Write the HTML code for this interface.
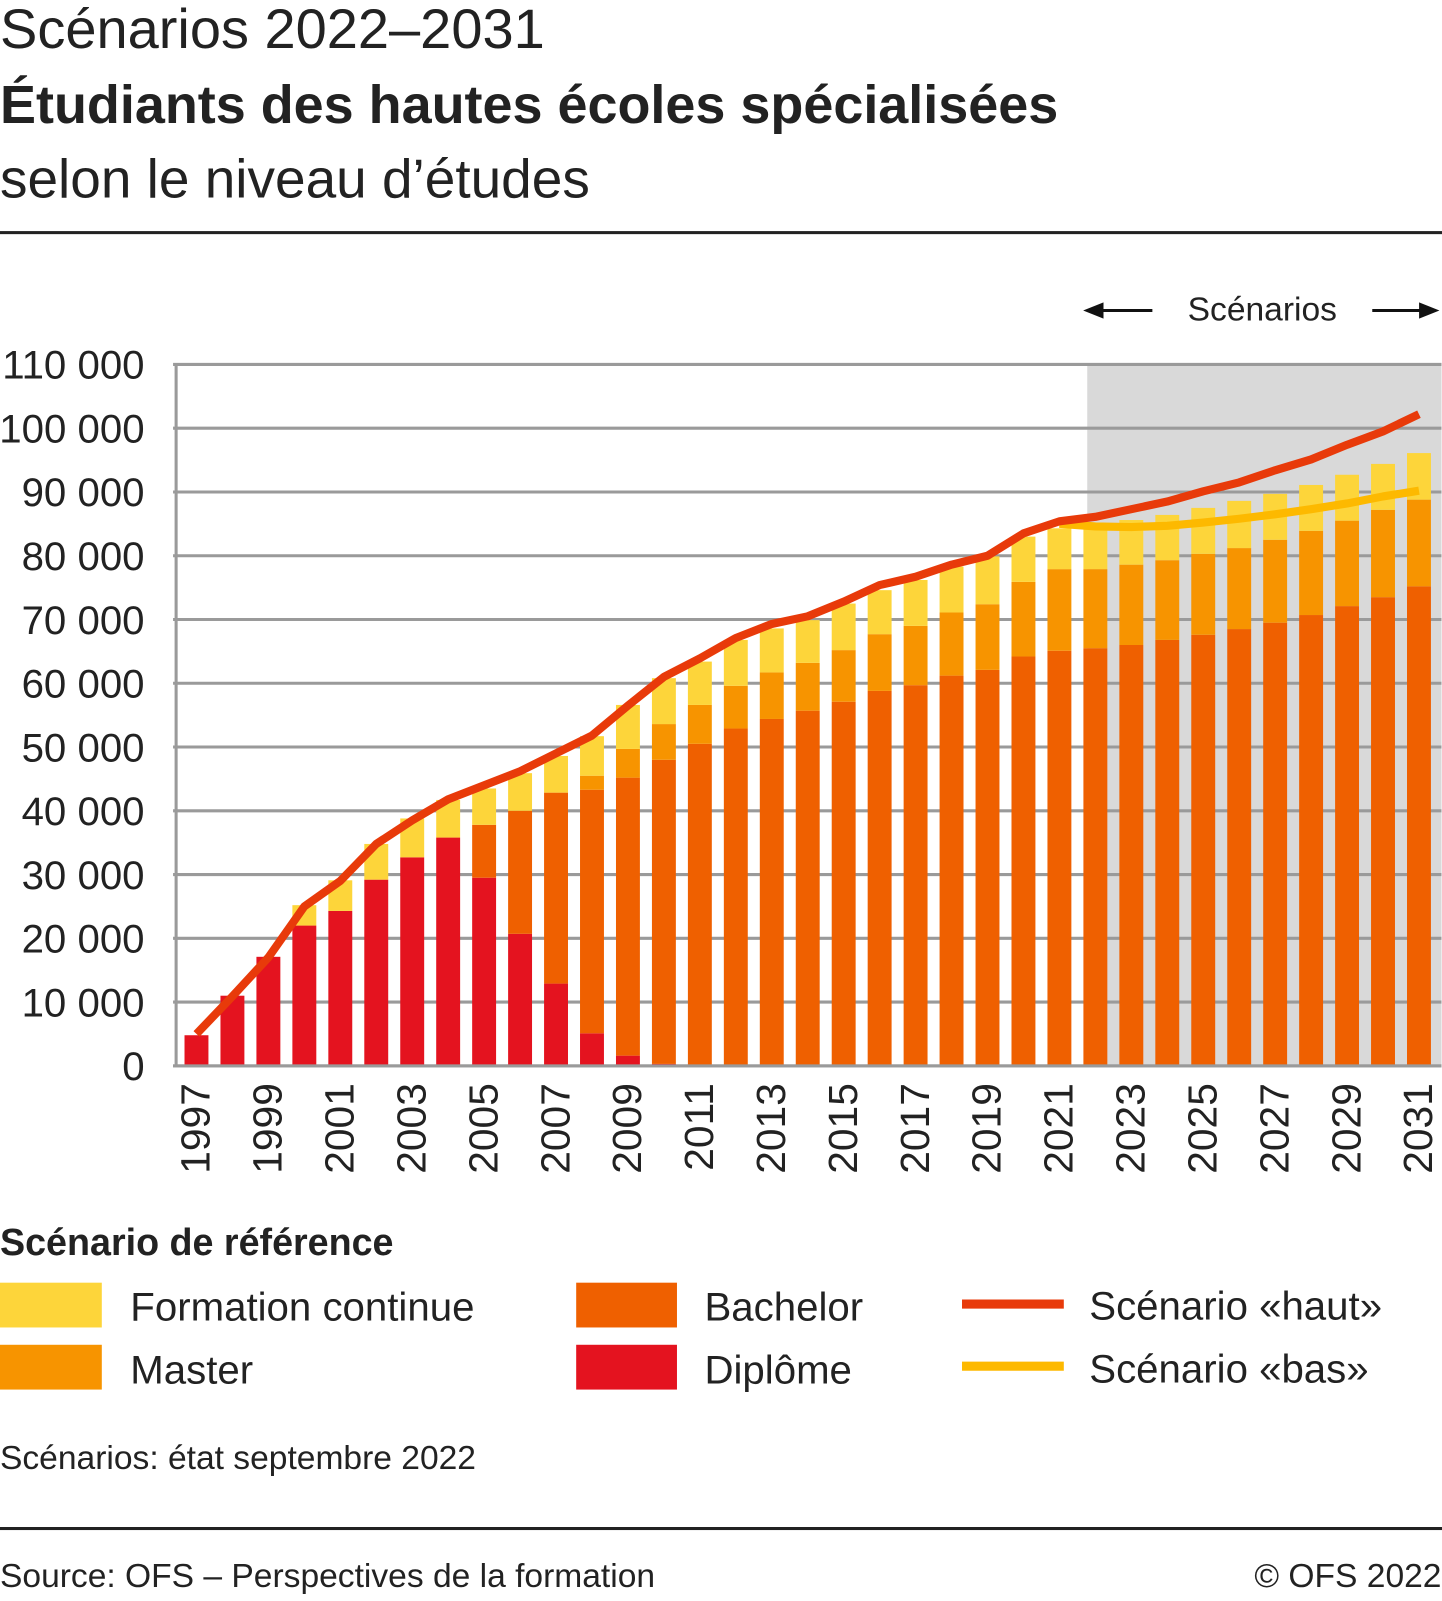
<!DOCTYPE html>
<html><head><meta charset="utf-8"><style>
body{margin:0;background:#fff;width:1442px;height:1596px;overflow:hidden;font-family:"Liberation Sans",sans-serif;color:#222}
svg text{font-family:"Liberation Sans",sans-serif;fill:#222}
</style></head><body>
<svg id="c" width="1442" height="1596" viewBox="0 0 1442 1596" xmlns="http://www.w3.org/2000/svg">
<g transform="scale(1.018)">
<text x="0" y="47" font-size="55">Scénarios 2022–2031</text>
<text x="0" y="121" font-size="53" font-weight="bold">Étudiants des hautes écoles spécialisées</text>
<text x="0" y="194" font-size="54">selon le niveau d’études</text>
<rect x="0" y="227" width="1418" height="3" fill="#222"/>
<g id="plot"></g>
<text x="1240" y="315" font-size="33" text-anchor="middle">Scénarios</text>
<g>
<line x1="1078" y1="305" x2="1132" y2="305" stroke="#111" stroke-width="3"/><polygon points="1064,305 1084,297 1084,313" fill="#111"/>
<line x1="1348" y1="305" x2="1400" y2="305" stroke="#111" stroke-width="3"/><polygon points="1414,305 1394,297 1394,313" fill="#111"/>
</g>
<text x="0" y="1233" font-size="37" font-weight="bold">Scénario de référence</text>
<g>
<rect x="0" y="1260" width="100" height="44" fill="#fdd53a"/>
<text x="128" y="1297" font-size="39.5">Formation continue</text>
<rect x="0" y="1321" width="100" height="44" fill="#f79400"/>
<text x="128" y="1359" font-size="39.5">Master</text>
<rect x="566" y="1260" width="99" height="44" fill="#ef6000"/>
<text x="692" y="1297" font-size="39.5">Bachelor</text>
<rect x="566" y="1321" width="99" height="44" fill="#e4131f"/>
<text x="692" y="1359" font-size="39.5">Diplôme</text>
<line x1="945" y1="1281" x2="1045" y2="1281" stroke="#e83a0a" stroke-width="9"/>
<text x="1070" y="1296" font-size="39.5">Scénario «haut»</text>
<line x1="945" y1="1342" x2="1045" y2="1342" stroke="#fdb900" stroke-width="9"/>
<text x="1070" y="1358" font-size="39.5">Scénario «bas»</text>
</g>
<text x="0" y="1443" font-size="33">Scénarios: état septembre 2022</text>
<rect x="0" y="1500" width="1418" height="3" fill="#222"/>
<text x="0" y="1559" font-size="33">Source: OFS – Perspectives de la formation</text>
<text x="1416" y="1559" font-size="33" text-anchor="end">© OFS 2022</text>
</g>
</svg>
<script>
const years=[1997,1998,1999,2000,2001,2002,2003,2004,2005,2006,2007,2008,2009,2010,2011,2012,2013,2014,2015,2016,2017,2018,2019,2020,2021,2022,2023,2024,2025,2026,2027,2028,2029,2030,2031];
const diplome=[4800,11000,17100,22000,24300,29200,32700,35800,29500,20700,12900,5100,1600,300,0,0,0,0,0,0,0,0,0,0,0,0,0,0,0,0,0,0,0,0,0];
const bachelor=[0,0,0,0,0,0,0,0,8300,19300,29900,38200,43600,47700,50500,52900,54400,55700,57100,58800,59700,61200,62100,64200,65100,65500,66000,66800,67600,68500,69500,70700,72100,73500,75200];
const master=[0,0,0,0,0,0,0,0,0,0,100,2200,4500,5600,6100,6700,7300,7500,8100,8900,9300,9900,10300,11700,12800,12400,12600,12500,12700,12700,13000,13200,13400,13700,13600];
const formation=[0,0,0,3200,4800,5600,6100,5900,5700,5900,5700,6200,6900,7200,6800,7200,6900,6700,7300,6900,7200,7200,7500,7100,6400,6600,7000,7100,7200,7400,7200,7200,7200,7200,7300];
const haut=[5000,10900,17000,25000,29000,34800,38500,41800,44000,46200,49000,51800,56500,61000,63900,67100,69300,70500,72800,75400,76700,78600,80000,83500,85400,86100,87300,88500,90100,91500,93400,95100,97400,99500,102200];
const basYears=[2021,2022,2023,2024,2025,2026,2027,2028,2029,2030,2031];
const bas=[85000,84600,84500,84700,85200,85800,86500,87300,88200,89300,90200];
const yTicks=[0,10000,20000,30000,40000,50000,60000,70000,80000,90000,100000,110000];
const yTickLabels=["0","10 000","20 000","30 000","40 000","50 000","60 000","70 000","80 000","90 000","100 000","110 000"];
const xLabelYears=[1997,1999,2001,2003,2005,2007,2009,2011,2013,2015,2017,2019,2021,2023,2025,2027,2029,2031];
const scenarioStart=2022;

const NS="http://www.w3.org/2000/svg";
const g=document.getElementById('plot');
const y=v=>1047-v*(689/110000);
const x=yr=>193+(yr-1997)*35.32;
const BW=23.5;
function el(t,a,p){const e=document.createElementNS(NS,t);for(const k in a)e.setAttribute(k,a[k]);(p||g).appendChild(e);return e;}

const sh=el('rect',{x:x(scenarioStart)-8,y:y(110000),width:1416-(x(scenarioStart)-8),height:y(0)-y(110000),fill:'#d9d9d9'});



yTicks.forEach((t,i)=>{
  const l=el('line',{x1:170,x2:1416,y1:y(t),y2:y(t),stroke:'#9a9a9a','stroke-width':3});
  
  
  const tx=el('text',{x:142,y:y(t)+14,'font-size':39.5,'text-anchor':'end'});
  
  
  tx.textContent=yTickLabels[i];
});
const ax=el('line',{x1:173,x2:173,y1:y(110000)-1,y2:y(0)+1,stroke:'#9a9a9a','stroke-width':3});



const series=[[diplome,'#e4131f','diplome'],[bachelor,'#ef6000','bachelor'],[master,'#f79400','master'],[formation,'#fdd53a','formation-continue']];
years.forEach((yr,i)=>{
  let base=0;
  series.forEach(([arr,col,nm])=>{
    const v=arr[i];
    if(v>0){
      const r=el('rect',{x:x(yr)-BW/2,y:y(base+v),width:BW,height:y(base)-y(base+v),fill:col});
      
      
    }
    base+=v;
  });
});
const bl=el('line',{x1:170,x2:1416,y1:y(0),y2:y(0),stroke:'#9a9a9a','stroke-width':3});



const pb=el('polyline',{points:basYears.map((yr,i)=>x(yr)+','+y(bas[i])).join(' '),fill:'none',stroke:'#fdb900','stroke-width':8,'stroke-linejoin':'round'});


const ph=el('polyline',{points:years.map((yr,i)=>x(yr)+','+y(haut[i])).join(' '),fill:'none',stroke:'#e83a0a','stroke-width':8,'stroke-linejoin':'round'});



xLabelYears.forEach(yr=>{
  const t=el('text',{transform:'translate('+(x(yr)+13)+',1064) rotate(-90)','font-size':40,'text-anchor':'end'});
  
  
  t.textContent=yr;
});
</script>
</body></html>
